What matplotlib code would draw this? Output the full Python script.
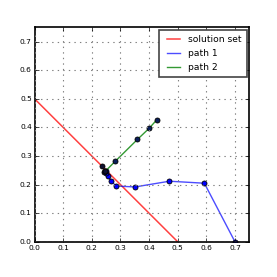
import matplotlib
matplotlib.use("Agg")
import matplotlib.pyplot as plt

plt.style.use("classic")

sol_x = [0.0, 0.5]
sol_y = [0.5, 0.0]

path1_x = [0.700, 0.593, 0.471, 0.351, 0.285, 0.266, 0.257, 0.251, 0.249]
path1_y = [0.000, 0.205, 0.212, 0.192, 0.195, 0.214, 0.230, 0.240, 0.246]

path2_x = [0.426, 0.400, 0.359, 0.281, 0.247]
path2_y = [0.426, 0.397, 0.358, 0.281, 0.247]

end_x = [0.236, 0.243, 0.246]
end_y = [0.264, 0.243, 0.249]

fig = plt.figure(figsize=(2.77, 2.77), dpi=100)
ax = fig.add_axes([0.125, 0.127, 0.775, 0.774])

ax.plot(sol_x, sol_y, color="red", lw=1.1, alpha=0.75, label="solution set")
ax.plot(path1_x, path1_y, color="blue", lw=1.0, alpha=0.7, label="path 1")
ax.plot(path1_x, path1_y, "o", color="blue", mec="black", ms=3.6, mew=0.6)
ax.plot(path2_x, path2_y, color="green", lw=1.0, alpha=0.8, label="path 2")
ax.plot(path2_x, path2_y, "o", color="#0a1f5a", mec="black", ms=3.6, mew=0.6)
ax.plot(end_x, end_y, "o", color="#101030", mec="black", ms=3.6, mew=0.6)

ax.set_xlim(0, 0.75)
ax.set_ylim(0, 0.75)
ax.set_xticks([0.0, 0.1, 0.2, 0.3, 0.4, 0.5, 0.6, 0.7])
ax.set_yticks([0.0, 0.1, 0.2, 0.3, 0.4, 0.5, 0.6, 0.7])
ax.tick_params(labelsize=5.4, length=3, pad=2)
ax.grid(True, color="gray", linestyle=":", linewidth=0.8)
for s in ax.spines.values():
    s.set_linewidth(1.2)

leg = ax.legend(loc="upper right", fontsize=6.6, handlelength=2.0, borderpad=0.55,
                labelspacing=0.55, handletextpad=0.6, borderaxespad=0.3, fancybox=False)
leg.get_frame().set_edgecolor("#444444")
leg.get_frame().set_linewidth(1.2)

fig.savefig("out.png", dpi=100)
